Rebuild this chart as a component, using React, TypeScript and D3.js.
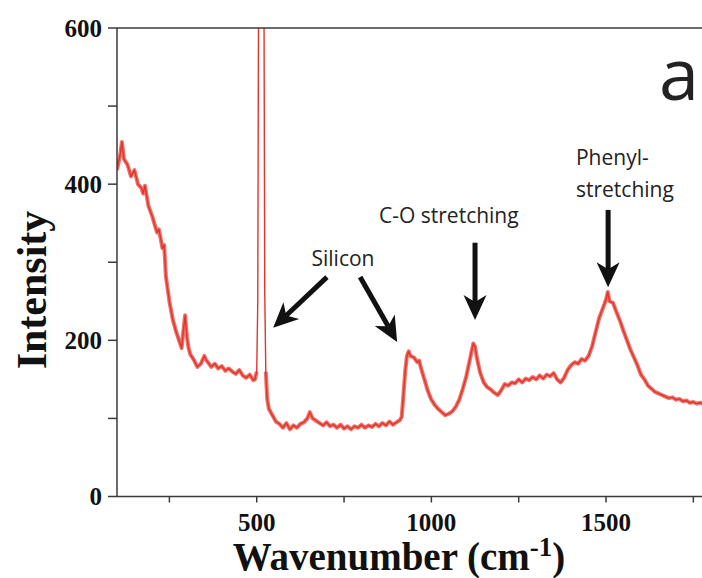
import React from "react";
import * as d3 from "d3";

// ---- data ----
const wavenumbers = [
  100, 110, 114, 120, 130, 140, 150, 160, 170, 175, 180, 190, 200, 210, 215, 220, 230, 235, 240, 250,
  260, 270, 280, 285, 290, 295, 300, 305, 310, 320, 330, 340, 350, 355, 360, 370, 380, 390, 400, 410,
  420, 430, 440, 450, 460, 470, 480, 490, 495, 500, 503, 505, 513, 521, 523, 526, 530, 535, 545, 555,
  565, 575, 585, 595, 605, 615, 625, 635, 645, 652, 660, 670, 680, 690, 700, 710, 720, 730, 740, 750,
  760, 770, 780, 790, 800, 810, 820, 830, 840, 850, 860, 870, 880, 890, 900, 910, 915, 920, 925, 930,
  935, 940, 950, 960, 965, 970, 980, 990, 1000, 1010, 1020, 1030, 1040, 1050, 1060, 1070, 1080, 1090, 1100, 1110,
  1120, 1125, 1130, 1140, 1150, 1160, 1170, 1180, 1190, 1200, 1210, 1220, 1230, 1240, 1250, 1260, 1270, 1280, 1290, 1300,
  1310, 1320, 1330, 1340, 1350, 1360, 1370, 1380, 1390, 1400, 1410, 1420, 1430, 1440, 1450, 1460, 1470, 1480, 1490, 1500,
  1505, 1510, 1520, 1530, 1540, 1550, 1560, 1570, 1580, 1590, 1600, 1610, 1620, 1630, 1640, 1650, 1660, 1670, 1680, 1690,
  1700, 1710, 1720, 1730, 1740, 1750, 1760, 1770, 1780, 1790, 1800,
];
const intensity = [
  418, 440, 454, 432, 425, 410, 418, 400, 395, 388, 398, 372, 360, 345, 338, 342, 318, 322, 282, 250,
  226, 210, 197, 190, 212, 232, 205, 190, 182, 175, 166, 170, 180, 175, 172, 166, 170, 164, 167, 161,
  164, 160, 157, 162, 155, 152, 156, 149, 150, 160, 250, 600, 2000, 600, 260, 160, 125, 112, 104, 96,
  93, 88, 94, 86, 91, 88, 93, 95, 100, 108, 100, 97, 94, 91, 95, 90, 92, 88, 92, 87,
  90, 86, 90, 88, 92, 88, 91, 89, 93, 90, 94, 91, 96, 92, 95, 98, 102, 130, 160, 180,
  186, 180, 178, 172, 174, 165, 150, 135, 124, 117, 112, 108, 104, 106, 109, 115, 124, 138, 154, 175,
  196, 192, 178, 158, 146, 140, 137, 133, 130, 136, 144, 142, 146, 145, 150, 146, 151, 149, 153, 150,
  155, 151, 156, 154, 158, 150, 146, 152, 162, 168, 172, 170, 176, 174, 180, 192, 210, 228, 240, 252,
  262, 250, 248, 236, 225, 212, 200, 188, 178, 168, 156, 150, 142, 138, 134, 132, 130, 128, 126, 127,
  124, 125, 122, 123, 120, 121, 119, 120, 118, 119, 117,
];
const xTicks = [250, 500, 750, 1000, 1250, 1500, 1750];
const xTickLabels = ["", "500", "", "1000", "", "1500", ""];
const yTicks = [0, 100, 200, 300, 400, 500, 600];
const yTickLabels = ["0", "", "200", "", "400", "", "600"];

// annotations in data coordinates
const arrowTails = [[701, 281], [796, 281], [1125, 325], [1506, 367]];
const arrowTips = [[547, 216], [902, 198], [1125, 226], [1506, 268]];
const labelTexts = ["Silicon", "C-O stretching", "Phenyl-", "stretching"];
const labelPos = [[747, 295], [1050, 350], [1414, 425], [1414, 384]];
const labelAnchor = ["middle", "middle", "start", "start"];

const W = 702;
const H = 578;
const left = 117;
const top = 28;
const bottom = 496.5;

export default function App() {
  const x = d3.scaleLinear().domain([100, 1800]).range([left, left + 1700 * 0.3493]);
  const y = d3.scaleLinear().domain([0, 600]).range([bottom, top]);
  const pts = wavenumbers.map((w, i) => [w, intensity[i]] as [number, number]);
  const line = d3
    .line<[number, number]>()
    .x((d) => x(d[0]))
    .y((d) => y(d[1]));
  // wide translucent band everywhere except inside the narrow silicon peak
  const band = d3
    .line<[number, number]>()
    .defined((d) => d[0] <= 500 || d[0] >= 526)
    .x((d) => x(d[0]))
    .y((d) => y(d[1]));

  const axisColor = "#3a3a3a";
  const serif = "'Liberation Serif', 'Times New Roman', serif";
  const sans = "'Open Sans', 'Noto Sans', sans-serif";

  const arrows = arrowTails.map((t, i) => {
    const tip = arrowTips[i];
    const x0 = x(t[0]), y0 = y(t[1]);
    const x1 = x(tip[0]), y1 = y(tip[1]);
    const len = Math.hypot(x1 - x0, y1 - y0);
    const dx = (x1 - x0) / len, dy = (y1 - y0) / len;
    const nx = -dy, ny = dx;
    const L = 25, HW = 11.5, notch = 7;
    const bx = x1 - L * dx, by = y1 - L * dy;
    const mx = x1 - (L - notch) * dx, my = y1 - (L - notch) * dy;
    const head = [
      [x1, y1],
      [bx + HW * nx, by + HW * ny],
      [mx, my],
      [bx - HW * nx, by - HW * ny],
    ];
    return { x0, y0, mx, my, head };
  });

  return (
    <svg
      width={W}
      height={H}
      style={{ position: "absolute", left: 0, top: 0, background: "#fff" }}
      xmlns="http://www.w3.org/2000/svg"
    >
      <defs>
        <clipPath id="plotClip">
          <rect x={left} y={top} width={W - left} height={bottom - top} />
        </clipPath>
      </defs>

      {/* spectrum */}
      <g clipPath="url(#plotClip)">
        <path
          d={band(pts) || ""}
          fill="none"
          stroke="#e8453a"
          strokeOpacity={0.75}
          strokeWidth={4}
          strokeLinejoin="round"
        />
        <path
          d={line(pts) || ""}
          fill="none"
          stroke="#e2342a"
          strokeWidth={1.4}
          strokeLinejoin="round"
        />
      </g>

      {/* axes */}
      <line x1={left} y1={top} x2={left} y2={bottom} stroke={axisColor} strokeWidth={1.5} />
      <line x1={left} y1={bottom} x2={W} y2={bottom} stroke={axisColor} strokeWidth={1.5} />
      <line x1={left} y1={top} x2={W} y2={top} stroke={axisColor} strokeWidth={1.5} />

      {yTicks.map((t, i) => (
        <g key={"y" + t}>
          <line x1={left - 9} x2={left} y1={y(t)} y2={y(t)} stroke={axisColor} strokeWidth={1.5} />
          {yTickLabels[i] && (
            <text
              x={102}
              y={y(t) + 8.5}
              textAnchor="end"
              fontFamily={serif}
              fontWeight="bold"
              fontSize={25}
              fill="#111"
            >
              {yTickLabels[i]}
            </text>
          )}
        </g>
      ))}
      {xTicks.map((t, i) => (
        <g key={"x" + t}>
          <line x1={x(t)} x2={x(t)} y1={bottom} y2={bottom + 6} stroke={axisColor} strokeWidth={1.5} />
          {xTickLabels[i] && (
            <text
              x={x(t)}
              y={531}
              textAnchor="middle"
              fontFamily={serif}
              fontWeight="bold"
              fontSize={25}
              fill="#111"
            >
              {xTickLabels[i]}
            </text>
          )}
        </g>
      ))}

      {/* axis titles */}
      <text
        x={399}
        y={570}
        textAnchor="middle"
        fontFamily={serif}
        fontWeight="bold"
        fontSize={39}
        fill="#111"
      >
        Wavenumber (cm
        <tspan fontSize={27} dy={-14}>-1</tspan>
        <tspan dy={14}>)</tspan>
      </text>
      <text
        transform={`translate(46, 290) rotate(-90)`}
        textAnchor="middle"
        fontFamily={serif}
        fontWeight="bold"
        fontSize={42}
        fill="#111"
      >
        Intensity
      </text>

      {/* annotations */}
      {labelTexts.map((s, i) => (
        <text
          key={s}
          x={x(labelPos[i][0])}
          y={y(labelPos[i][1])}
          textAnchor={labelAnchor[i]}
          fontFamily={sans}
          fontSize={21}
          fill="#222"
        >
          {s}
        </text>
      ))}
      {arrows.map((a, i) => (
        <g key={"a" + i}>
          <line x1={a.x0} y1={a.y0} x2={a.mx} y2={a.my} stroke="#111" strokeWidth={5} />
          <polygon points={a.head.map((p) => p.join(",")).join(" ")} fill="#111" />
        </g>
      ))}
      <text x={x(1652)} y={y(508)} fontFamily={sans} fontSize={72} fill="#222">
        a
      </text>
    </svg>
  );
}
